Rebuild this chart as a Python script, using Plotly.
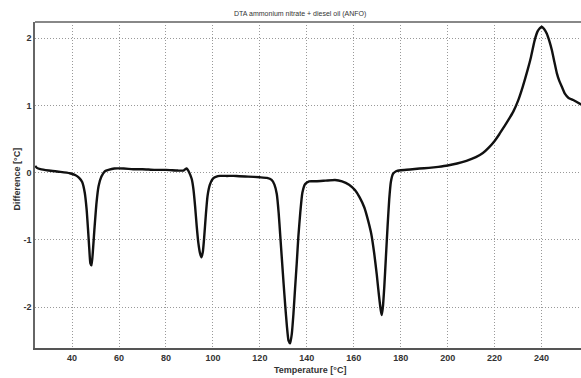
import plotly.graph_objects as go

# DTA curve: temperature [°C] vs difference [°C]
temperature = [24.3, 25, 26.5, 30, 35, 39, 41.5, 43, 44.3, 45.4, 46.2, 46.8, 47.3, 47.8, 48.3,
               48.9, 49.5, 50.4, 51.3, 52.5, 54, 55.5, 58, 62, 66, 70, 75, 80, 85, 87.5,
               88.2, 88.8, 89.5, 90.3, 91.0, 91.7, 92.4, 93.1, 93.8, 94.5, 95.1, 95.7, 96.3,
               97.0, 97.7, 98.7, 100, 101.5, 103, 106, 110, 115, 120, 123, 125, 126.2, 127.2,
               128.0, 128.7, 129.4, 130.1, 130.8, 131.5, 132.2, 132.9, 133.6, 134.3, 135.0,
               135.7, 136.4, 137.2, 138.1, 139.3, 141, 144, 148, 152, 155, 158, 160.5, 162.5,
               164.5, 166, 167.5, 168.7, 169.8, 170.7, 171.5, 171.9, 172.4, 173.0, 173.7,
               174.4, 175.1, 175.8, 176.7, 178, 180, 184, 188, 192, 196, 200, 204, 208, 212,
               215, 217.5, 220, 222, 224, 226, 228, 230, 232, 234, 235.5, 237, 238.3, 239.3,
               240.1, 241, 242.2, 243.3, 244.4, 245.5, 246.5, 247.6, 248.6, 250, 251.5, 253.5,
               255, 257]
difference = [0.10, 0.07, 0.05, 0.03, 0.01, -0.01, -0.04, -0.08, -0.14, -0.30, -0.55, -0.85,
              -1.12, -1.35, -1.38, -1.15, -0.85, -0.45, -0.20, -0.06, 0.02, 0.04, 0.06, 0.06,
              0.05, 0.05, 0.04, 0.04, 0.03, 0.03, 0.05, 0.06, 0.03, -0.03, -0.10, -0.25, -0.50,
              -0.80, -1.05, -1.20, -1.26, -1.18, -0.95, -0.62, -0.35, -0.18, -0.09, -0.06,
              -0.05, -0.05, -0.05, -0.06, -0.07, -0.08, -0.11, -0.18, -0.32, -0.60, -0.95,
              -1.30, -1.65, -1.98, -2.28, -2.50, -2.54, -2.40, -2.10, -1.72, -1.35, -0.95,
              -0.60, -0.30, -0.17, -0.13, -0.13, -0.12, -0.11, -0.13, -0.18, -0.26, -0.37,
              -0.52, -0.70, -0.92, -1.20, -1.52, -1.82, -2.05, -2.12, -2.00, -1.70, -1.25,
              -0.80, -0.40, -0.14, -0.02, 0.02, 0.035, 0.045, 0.06, 0.07, 0.085, 0.105, 0.135,
              0.175, 0.23, 0.29, 0.37, 0.47, 0.57, 0.68, 0.79, 0.91, 1.07, 1.28, 1.52, 1.72,
              1.96, 2.10, 2.15, 2.17, 2.14, 2.07, 1.96, 1.82, 1.64, 1.48, 1.36, 1.28, 1.17,
              1.11, 1.08, 1.05, 1.01]

x_ticks = [40, 60, 80, 100, 120, 140, 160, 180, 200, 220, 240]
y_ticks = [-2, -1, 0, 1, 2]

title_text = "DTA ammonium nitrate + diesel oil (ANFO)"
x_title = "Temperature [°C]"
y_title = "Difference [°C]"

fig = go.Figure()
fig.add_trace(go.Scatter(x=temperature, y=difference, mode="lines",
                         line=dict(color="#111111", width=2.4, shape="spline", smoothing=0.5),
                         showlegend=False))

tickfont = dict(family="Liberation Sans, Arial, sans-serif", size=9, color="#333333", weight="bold")
grid_dash = "1px,2px"

fig.update_layout(
    width=581, height=378,
    margin=dict(l=35, r=0, t=22, b=30),
    paper_bgcolor="white", plot_bgcolor="white",
    xaxis=dict(range=[24.2, 256.8], tickvals=x_ticks, ticktext=[str(v) for v in x_ticks],
               showgrid=True, gridcolor="#999999", griddash=grid_dash, gridwidth=1,
               zeroline=False, showline=True, linecolor="#555555", linewidth=2,
               ticks="", tickfont=tickfont),
    yaxis=dict(range=[-2.61, 2.24], tickvals=y_ticks, ticktext=[str(v) for v in y_ticks],
               showgrid=True, gridcolor="#999999", griddash=grid_dash, gridwidth=1,
               zeroline=False, showline=True, linecolor="#666666", linewidth=1.5,
               ticks="", tickfont=tickfont),
    shapes=[dict(type="line", xref="paper", yref="paper", x0=0, x1=1, y0=1, y1=1,
                 line=dict(color="#888888", width=2))],
    annotations=[
        dict(text=title_text, xref="paper", yref="paper", x=0.485, y=1.025,
             xanchor="center", yanchor="middle", showarrow=False,
             font=dict(family="Liberation Sans, Arial, sans-serif", size=7, color="#333333")),
        dict(text=x_title, xref="paper", yref="paper", x=0.504, y=-0.067,
             xanchor="center", yanchor="middle", showarrow=False,
             font=dict(family="Liberation Sans, Arial, sans-serif", size=9, color="#333333",
                       weight="bold")),
        dict(text=y_title, xref="paper", yref="paper", x=-0.033, y=0.52, textangle=-90,
             xanchor="center", yanchor="middle", showarrow=False,
             font=dict(family="Liberation Sans, Arial, sans-serif", size=9, color="#333333",
                       weight="bold")),
    ],
)

fig.write_html("out.html", config={"displayModeBar": False},
               post_script="document.body.style.margin='0';document.body.style.overflow='hidden';")
